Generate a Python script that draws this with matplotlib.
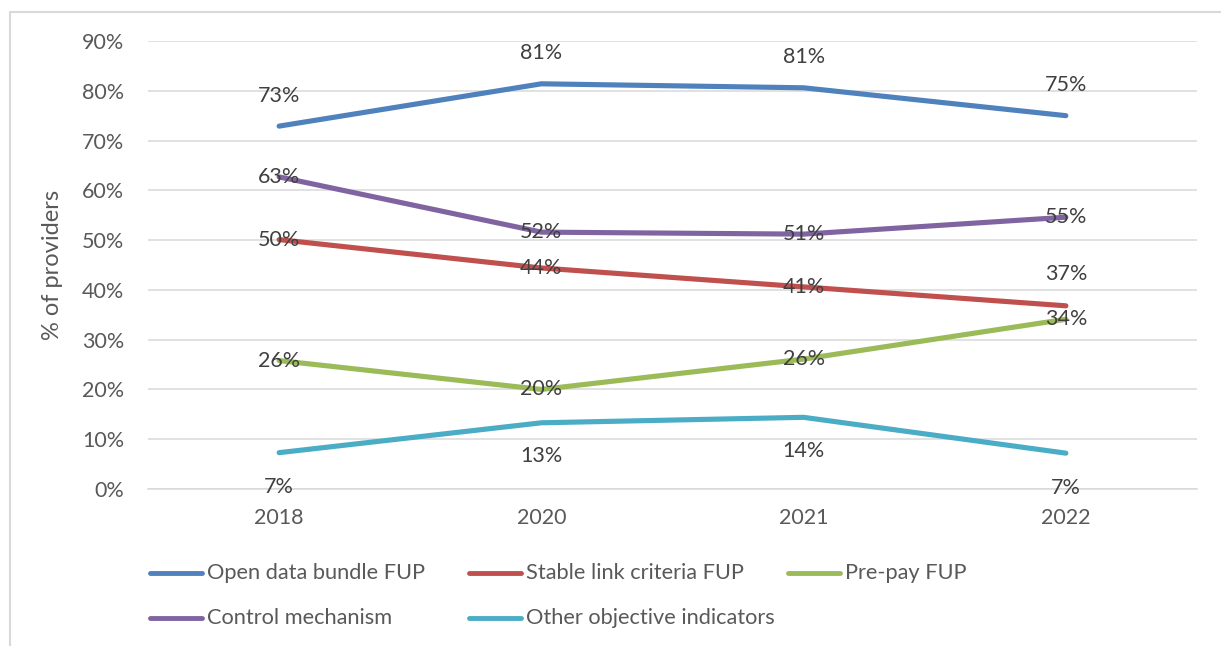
import matplotlib
matplotlib.use("Agg")
import matplotlib.pyplot as plt
from matplotlib.lines import Line2D
from matplotlib.patches import Rectangle
from matplotlib.ticker import FuncFormatter, MultipleLocator

plt.rcParams['font.family'] = ['Lato', 'DejaVu Sans']

years = ["2018", "2020", "2021", "2022"]
open_data_bundle = [72.9, 81.4, 80.6, 75.0]
stable_link = [50.1, 44.4, 40.6, 36.8]
pre_pay = [25.8, 20.0, 26.1, 34.1]
control_mechanism = [62.7, 51.6, 51.2, 54.6]
other_indicators = [7.3, 13.3, 14.4, 7.2]

series = [
    ("Open data bundle FUP", open_data_bundle, "#4F81BD"),
    ("Stable link criteria FUP", stable_link, "#C0504D"),
    ("Pre-pay FUP", pre_pay, "#9BBB59"),
    ("Control mechanism", control_mechanism, "#8064A2"),
    ("Other objective indicators", other_indicators, "#4BACC6"),
]

# vertical label offsets (points) per series; 0 = centred on the point
label_offsets = {
    "Open data bundle FUP": [22, 22, 22, 22],
    "Stable link criteria FUP": [0, 0, 0, 23],
    "Pre-pay FUP": [0, 0, 0, 0],
    "Control mechanism": [0, 0, 0, 0],
    "Other objective indicators": [-25, -24, -24, -25],
}

W, H = 1221, 646
fig = plt.figure(figsize=(W / 100, H / 100), dpi=100)

# chart border
fig.add_artist(Rectangle((10 / W, -0.1), 1.2, (H - 12) / H + 0.1,
                         transform=fig.transFigure, fill=False,
                         edgecolor="#D9D9D9", linewidth=1.5))

ax = fig.add_axes([148 / W, (H - 489) / H, (1197 - 148) / W, (489 - 41) / H])
x = list(range(len(years)))

for name, vals, color in series:
    frac = [v / 100 for v in vals]
    ax.plot(x, frac, color=color, linewidth=3.7, solid_capstyle="round",
            solid_joinstyle="round", zorder=3)

for name, vals, color in series:
    for xi, v, off in zip(x, vals, label_offsets[name]):
        ax.annotate(f"{round(v):d}%", (xi, v / 100), xytext=(0, off),
                    textcoords="offset points", ha="center", va="center",
                    fontsize=15.5, color="#404040", zorder=4)

ax.set_xlim(-0.5, len(years) - 0.5)
ax.set_ylim(0, 0.9)
ax.yaxis.set_major_locator(MultipleLocator(0.1))
ax.yaxis.set_major_formatter(FuncFormatter(lambda v, p: f"{v * 100:.0f}%"))
ax.set_xticks(x)
ax.set_xticklabels(years)
ax.grid(axis="y", color="#D9D9D9", linewidth=1.1, zorder=0)
ax.set_axisbelow(True)
for s in ax.spines.values():
    s.set_visible(False)
ax.spines["bottom"].set_visible(True)
ax.spines["bottom"].set_color("#D9D9D9")
ax.spines["bottom"].set_linewidth(1.1)
ax.tick_params(axis="both", length=0, labelsize=15.5, labelcolor="#595959")
ax.tick_params(axis="y", pad=17)
ax.tick_params(axis="x", pad=14)
ax.set_ylabel("% of providers", fontsize=17, color="#595959")
ax.yaxis.set_label_coords(-(148 - 63) / (1197 - 148), 0.5)

# legend laid out in equal-width columns, row by row
legend_cols = [148, 467, 786]
legend_rows = [573, 618]
for i, (name, vals, color) in enumerate(series):
    r, c = divmod(i, 3)
    lx = legend_cols[c]
    ly = H - legend_rows[r]
    fig.add_artist(Line2D([(lx + 2) / W, (lx + 54) / W], [ly / H, ly / H],
                          transform=fig.transFigure, color=color,
                          linewidth=3.5, solid_capstyle="round"))
    fig.text((lx + 59) / W, ly / H, name, fontsize=15.7, color="#595959",
             ha="left", va="center")

fig.savefig("out.png", dpi=100)
